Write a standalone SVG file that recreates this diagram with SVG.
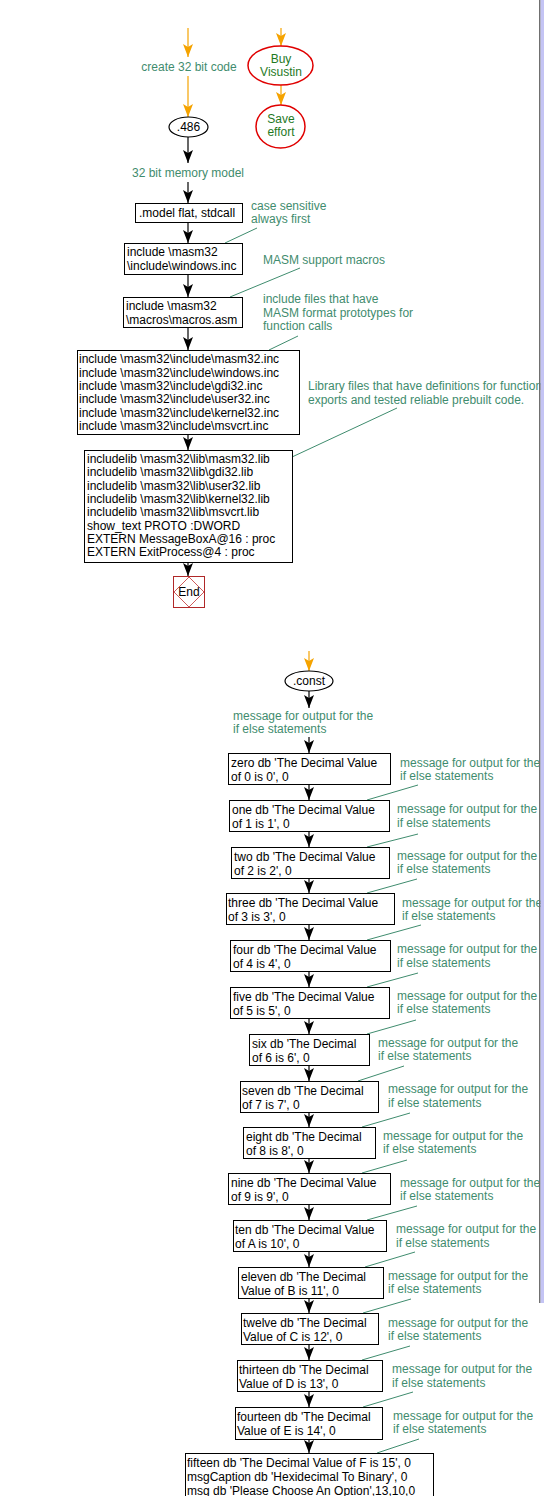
<svg xmlns="http://www.w3.org/2000/svg" width="544" height="1496" viewBox="0 0 544 1496">
<style>
text{font-family:"Liberation Sans",Arial,sans-serif;font-size:12px;fill:#000}
.c{fill:#3f8c6e}
.g{fill:#1f7a1f}
.m{text-anchor:middle}
.box{fill:#fff;stroke:#000;stroke-width:1}
.ell{fill:#fff;stroke:#000;stroke-width:1.2}
.red{fill:#fff;stroke:#e00000;stroke-width:1.5}
.k{stroke:#000;stroke-width:1.2;fill:none;marker-end:url(#ah)}
.o{stroke:#f5a300;stroke-width:1.2;fill:none;marker-end:url(#ao)}
.ld{stroke:#3f8c6e;stroke-width:1;fill:none}
</style>
<defs>
<marker id="ah" markerUnits="userSpaceOnUse" viewBox="0 0 13 10" refX="13" refY="5" markerWidth="13" markerHeight="10" orient="auto"><path d="M0,0 L13,5 L0,10 L3,5 z" fill="#000"/></marker>
<marker id="ao" markerUnits="userSpaceOnUse" viewBox="0 0 13 10" refX="13" refY="5" markerWidth="13" markerHeight="10" orient="auto"><path d="M0,0 L13,5 L0,10 L3,5 z" fill="#f5a300"/></marker>
</defs>
<rect width="544" height="1496" fill="#fff"/>

<g id="connectors">
<line class="o" x1="188" y1="28" x2="188" y2="57"/>
<line class="o" x1="188" y1="76" x2="188" y2="117"/>
<line class="k" x1="188" y1="137" x2="188" y2="163"/>
<line class="k" x1="188" y1="182" x2="188" y2="203"/>
<line class="k" x1="188" y1="223" x2="188" y2="243"/>
<line class="k" x1="188" y1="275" x2="188" y2="297"/>
<line class="k" x1="188" y1="328" x2="188" y2="350"/>
<line class="k" x1="188" y1="435" x2="188" y2="450"/>
<line class="k" x1="188" y1="563" x2="188" y2="576"/>
<line class="o" x1="281" y1="28" x2="281" y2="46"/>
<line class="o" x1="281" y1="85" x2="281" y2="105"/>
<line class="o" x1="309" y1="651" x2="309" y2="671"/>
<line class="k" x1="309" y1="691" x2="309" y2="708"/>
<line class="k" x1="309" y1="737" x2="309" y2="753"/>
<line class="k" x1="309" y1="785" x2="309" y2="800"/>
<line class="k" x1="309" y1="832" x2="309" y2="847"/>
<line class="k" x1="309" y1="879" x2="309" y2="893"/>
<line class="k" x1="309" y1="925" x2="309" y2="940"/>
<line class="k" x1="309" y1="972" x2="309" y2="987"/>
<line class="k" x1="309" y1="1019" x2="309" y2="1034"/>
<line class="k" x1="309" y1="1066" x2="309" y2="1081"/>
<line class="k" x1="309" y1="1113" x2="309" y2="1127"/>
<line class="k" x1="309" y1="1159" x2="309" y2="1173"/>
<line class="k" x1="309" y1="1205" x2="309" y2="1220"/>
<line class="k" x1="309" y1="1252" x2="309" y2="1267"/>
<line class="k" x1="309" y1="1299" x2="309" y2="1313"/>
<line class="k" x1="309" y1="1345" x2="309" y2="1360"/>
<line class="k" x1="309" y1="1392" x2="309" y2="1407"/>
<line class="k" x1="309" y1="1439" x2="309" y2="1453"/>
<!-- comment leaders -->
<line class="ld" x1="257" y1="228" x2="225" y2="243"/>
<line class="ld" x1="300" y1="268" x2="230" y2="297"/>
<line class="ld" x1="298" y1="336" x2="269" y2="350"/>
<line class="ld" x1="397" y1="408" x2="292" y2="457"/>
<line class="ld" x1="418" y1="785" x2="367" y2="800"/>
<line class="ld" x1="418" y1="834" x2="367" y2="847"/>
<line class="ld" x1="417" y1="879" x2="367" y2="893"/>
<line class="ld" x1="421" y1="925" x2="367" y2="940"/>
<line class="ld" x1="418" y1="973" x2="367" y2="987"/>
<line class="ld" x1="416" y1="1020" x2="367" y2="1034"/>
<line class="ld" x1="404" y1="1066" x2="358" y2="1081"/>
<line class="ld" x1="410" y1="1113" x2="362" y2="1127"/>
<line class="ld" x1="407" y1="1160" x2="362" y2="1173"/>
<line class="ld" x1="417" y1="1206" x2="367" y2="1220"/>
<line class="ld" x1="415" y1="1252" x2="365" y2="1267"/>
<line class="ld" x1="411" y1="1299" x2="363" y2="1313"/>
<line class="ld" x1="410" y1="1346" x2="362" y2="1360"/>
<line class="ld" x1="413" y1="1392" x2="363" y2="1407"/>
<line class="ld" x1="419" y1="1439" x2="377" y2="1453"/>
</g>

<g id="lbl-create"><text class="c m" x="189" y="71">create 32 bit code</text></g>
<g id="n-486"><ellipse class="ell" cx="188.5" cy="127" rx="19.5" ry="10"/><text class="m" x="188.5" y="131">.486</text></g>
<g id="lbl-mem"><text class="c m" x="188" y="177">32 bit memory model</text></g>
<g id="n-model"><rect class="box" x="135.5" y="203.5" width="107" height="19"/><text x="139" y="217">.model flat, stdcall</text></g>
<g id="c-case"><text class="c" x="251" y="210">case sensitive</text><text class="c" x="251" y="223">always first</text></g>
<g id="n-win"><rect class="box" x="124.5" y="243.5" width="118" height="31"/><text x="127" y="256">include \masm32</text><text x="127" y="270">\include\windows.inc</text></g>
<g id="c-masm"><text class="c" x="263" y="264">MASM support macros</text></g>
<g id="n-macros"><rect class="box" x="123.5" y="297.5" width="119" height="30"/><text x="126" y="310">include \masm32</text><text x="126" y="324">\macros\macros.asm</text></g>
<g id="c-incl"><text class="c" x="263" y="303">include files that have</text><text class="c" x="263" y="317">MASM format prototypes for</text><text class="c" x="263" y="330">function calls</text></g>
<g id="n-inc"><rect class="box" x="77.5" y="350.5" width="222" height="84"/>
<text x="79" y="363">include \masm32\include\masm32.inc</text>
<text x="79" y="376.5">include \masm32\include\windows.inc</text>
<text x="79" y="390">include \masm32\include\gdi32.inc</text>
<text x="79" y="403">include \masm32\include\user32.inc</text>
<text x="79" y="416.5">include \masm32\include\kernel32.inc</text>
<text x="79" y="430">include \masm32\include\msvcrt.inc</text></g>
<g id="c-lib"><text class="c" x="308" y="390">Library files that have definitions for function</text><text class="c" x="308" y="404">exports and tested reliable prebuilt code.</text></g>
<g id="n-lib"><rect class="box" x="84.5" y="450.5" width="208" height="112"/>
<text x="87" y="463">includelib \masm32\lib\masm32.lib</text>
<text x="87" y="476">includelib \masm32\lib\gdi32.lib</text>
<text x="87" y="489.5">includelib \masm32\lib\user32.lib</text>
<text x="87" y="503">includelib \masm32\lib\kernel32.lib</text>
<text x="87" y="516">includelib \masm32\lib\msvcrt.lib</text>
<text x="87" y="529.5">show_text PROTO :DWORD</text>
<text x="87" y="543">EXTERN MessageBoxA@16 : proc</text>
<text x="87" y="556">EXTERN ExitProcess@4 : proc</text></g>
<g id="n-end"><rect x="173.5" y="576.5" width="31" height="31" fill="#fff" stroke="#b02828" stroke-width="1"/><path d="M189,577 L204,592 L189,607 L174,592 z" fill="none" stroke="#c03030" stroke-width="0.8"/><text class="m" x="189" y="596">End</text></g>

<g id="n-buy"><ellipse class="red" cx="280.5" cy="65.5" rx="32.5" ry="19.5"/><text class="g m" x="281" y="63">Buy</text><text class="g m" x="281" y="76">Visustin</text></g>
<g id="n-save"><ellipse class="red" cx="280.5" cy="126.5" rx="24.5" ry="21.5"/><text class="g m" x="281" y="123">Save</text><text class="g m" x="281" y="136">effort</text></g>

<g id="n-const"><ellipse class="ell" cx="309" cy="681" rx="24" ry="10"/><text class="m" x="309" y="685">.const</text></g>
<g id="lbl-msg"><text class="c" x="233" y="720">message for output for the</text><text class="c" x="233" y="733">if else statements</text></g>

<g id="n-zero"><rect class="box" x="228.5" y="753.5" width="162" height="31"/><text x="231" y="767">zero db 'The Decimal Value</text><text x="231" y="781">of 0 is 0', 0</text></g>
<g id="c-zero"><text class="c" x="400" y="767">message for output for the</text><text class="c" x="400" y="780">if else statements</text></g>
<g id="n-one"><rect class="box" x="229.5" y="800.5" width="160" height="31"/><text x="232" y="814">one db 'The Decimal Value</text><text x="232" y="828">of 1 is 1', 0</text></g>
<g id="c-one"><text class="c" x="397" y="813">message for output for the</text><text class="c" x="397" y="827">if else statements</text></g>
<g id="n-two"><rect class="box" x="231.5" y="847.5" width="158" height="31"/><text x="234" y="861">two db 'The Decimal Value</text><text x="234" y="875">of 2 is 2', 0</text></g>
<g id="c-two"><text class="c" x="397" y="860">message for output for the</text><text class="c" x="397" y="873">if else statements</text></g>
<g id="n-three"><rect class="box" x="226.5" y="893.5" width="168" height="31"/><text x="228" y="907">three db 'The Decimal Value</text><text x="228" y="921">of 3 is 3', 0</text></g>
<g id="c-three"><text class="c" x="402" y="907">message for output for the</text><text class="c" x="402" y="920">if else statements</text></g>
<g id="n-four"><rect class="box" x="230.5" y="940.5" width="160" height="31"/><text x="233" y="954">four db 'The Decimal Value</text><text x="233" y="968">of 4 is 4', 0</text></g>
<g id="c-four"><text class="c" x="397" y="953">message for output for the</text><text class="c" x="397" y="967">if else statements</text></g>
<g id="n-five"><rect class="box" x="230.5" y="987.5" width="159" height="31"/><text x="233" y="1001">five db 'The Decimal Value</text><text x="233" y="1015">of 5 is 5', 0</text></g>
<g id="c-five"><text class="c" x="397" y="1000">message for output for the</text><text class="c" x="397" y="1013">if else statements</text></g>
<g id="n-six"><rect class="box" x="249.5" y="1034.5" width="120" height="31"/><text x="252" y="1048">six db 'The Decimal</text><text x="252" y="1062">of 6 is 6', 0</text></g>
<g id="c-six"><text class="c" x="378" y="1047">message for output for the</text><text class="c" x="378" y="1060">if else statements</text></g>
<g id="n-seven"><rect class="box" x="240.5" y="1081.5" width="138" height="31"/><text x="242" y="1095">seven db 'The Decimal</text><text x="242" y="1109">of 7 is 7', 0</text></g>
<g id="c-seven"><text class="c" x="388" y="1093">message for output for the</text><text class="c" x="388" y="1107">if else statements</text></g>
<g id="n-eight"><rect class="box" x="243.5" y="1127.5" width="132" height="31"/><text x="246" y="1141">eight db 'The Decimal</text><text x="246" y="1155">of 8 is 8', 0</text></g>
<g id="c-eight"><text class="c" x="383" y="1140">message for output for the</text><text class="c" x="383" y="1153">if else statements</text></g>
<g id="n-nine"><rect class="box" x="228.5" y="1173.5" width="162" height="31"/><text x="231" y="1187">nine db 'The Decimal Value</text><text x="231" y="1201">of 9 is 9', 0</text></g>
<g id="c-nine"><text class="c" x="400" y="1187">message for output for the</text><text class="c" x="400" y="1200">if else statements</text></g>
<g id="n-ten"><rect class="box" x="233.5" y="1220.5" width="153" height="31"/><text x="235" y="1234">ten db 'The Decimal Value</text><text x="235" y="1248">of A is 10', 0</text></g>
<g id="c-ten"><text class="c" x="396" y="1233">message for output for the</text><text class="c" x="396" y="1247">if else statements</text></g>
<g id="n-eleven"><rect class="box" x="238.5" y="1267.5" width="145" height="31"/><text x="241" y="1281">eleven db 'The Decimal</text><text x="241" y="1295">Value of B is 11', 0</text></g>
<g id="c-eleven"><text class="c" x="388" y="1280">message for output for the</text><text class="c" x="388" y="1293">if else statements</text></g>
<g id="n-twelve"><rect class="box" x="241.5" y="1313.5" width="137" height="31"/><text x="243" y="1327">twelve db 'The Decimal</text><text x="243" y="1341">Value of C is 12', 0</text></g>
<g id="c-twelve"><text class="c" x="388" y="1327">message for output for the</text><text class="c" x="388" y="1340">if else statements</text></g>
<g id="n-thirteen"><rect class="box" x="237.5" y="1360.5" width="145" height="31"/><text x="239" y="1374">thirteen db 'The Decimal</text><text x="239" y="1388">Value of D is 13', 0</text></g>
<g id="c-thirteen"><text class="c" x="392" y="1373">message for output for the</text><text class="c" x="392" y="1387">if else statements</text></g>
<g id="n-fourteen"><rect class="box" x="235.5" y="1407.5" width="147" height="32"/><text x="237" y="1421">fourteen db 'The Decimal</text><text x="237" y="1435">Value of E is 14', 0</text></g>
<g id="c-fourteen"><text class="c" x="393" y="1420">message for output for the</text><text class="c" x="393" y="1433">if else statements</text></g>
<g id="n-fifteen"><rect class="box" x="185.5" y="1453.5" width="248" height="50"/>
<text x="187" y="1467">fifteen db 'The Decimal Value of F is 15', 0</text>
<text x="187" y="1481">msgCaption db 'Hexidecimal To Binary', 0</text>
<text x="187" y="1495">msg db 'Please Choose An Option',13,10,0</text></g>

<rect x="539" y="0" width="1.6" height="1303" fill="#707070"/>
<rect x="540.6" y="0" width="3.4" height="1303" fill="#c4c4f4"/>
</svg>
